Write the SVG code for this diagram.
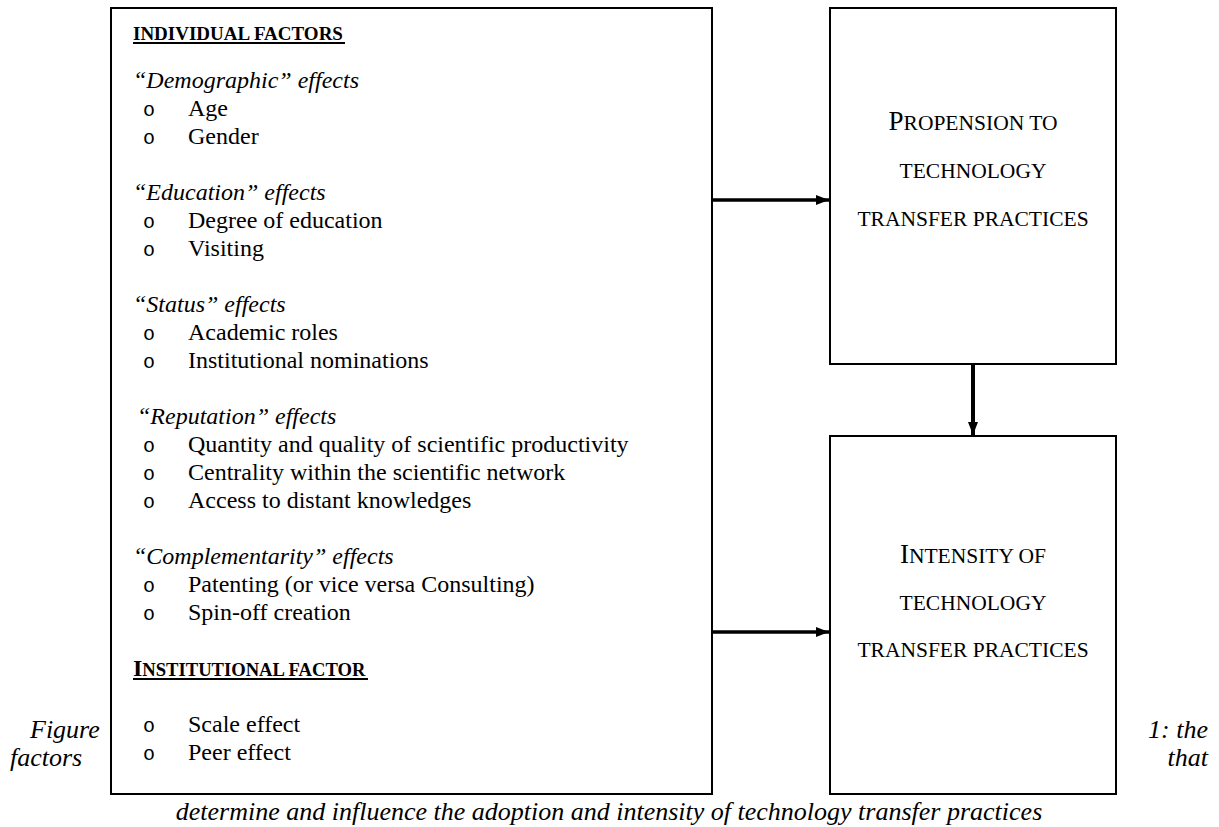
<svg xmlns="http://www.w3.org/2000/svg" width="1219" height="827" viewBox="0 0 1219 827">
  <defs>
    <marker id="arrow" viewBox="0 0 13 10" refX="13" refY="5" markerWidth="13" markerHeight="10" markerUnits="userSpaceOnUse" orient="auto">
      <path d="M0,0 L13,5 L0,10 Z" fill="#000"/>
    </marker>
    <style>
      .box { fill: #fff; stroke: #000; stroke-width: 2; }
      .body { font-family: "Liberation Serif", "Times New Roman", serif; font-size: 24px; fill: #000; }
      .ital { font-style: italic; }
      .bullet { font-family: "Liberation Mono", "Courier New", monospace; font-size: 20px; fill: #000; }
      .head { font-family: "Liberation Serif", "Times New Roman", serif; font-weight: bold; fill: #000; }
      .sc { font-family: "Liberation Serif", "Times New Roman", serif; font-size: 21.5px; fill: #000; text-anchor: middle; }
      .cap { font-family: "Liberation Serif", "Times New Roman", serif; font-style: italic; font-size: 26px; fill: #000; }
      .link { stroke: #000; fill: none; }
    </style>
  </defs>

  <rect width="1219" height="827" fill="#fff"/>

  <!-- Factors box -->
  <g id="factors">
    <rect class="box" x="111" y="8" width="601" height="786"/>
    <text class="head" x="133" y="40" font-size="19">INDIVIDUAL FACTORS</text>
    <line x1="133" y1="43" x2="345" y2="43" stroke="#000" stroke-width="2"/>

    <text class="body ital" x="133" y="88">“Demographic” effects</text>
    <text class="bullet" x="143" y="116">o</text><text class="body" x="188" y="116">Age</text>
    <text class="bullet" x="143" y="144">o</text><text class="body" x="188" y="144">Gender</text>

    <text class="body ital" x="133" y="200">“Education” effects</text>
    <text class="bullet" x="143" y="228">o</text><text class="body" x="188" y="228">Degree of education</text>
    <text class="bullet" x="143" y="256">o</text><text class="body" x="188" y="256">Visiting</text>

    <text class="body ital" x="133" y="312">“Status” effects</text>
    <text class="bullet" x="143" y="340">o</text><text class="body" x="188" y="340">Academic roles</text>
    <text class="bullet" x="143" y="368">o</text><text class="body" x="188" y="368">Institutional nominations</text>

    <text class="body ital" x="137" y="424">“Reputation” effects</text>
    <text class="bullet" x="143" y="452">o</text><text class="body" x="188" y="452">Quantity and quality of scientific productivity</text>
    <text class="bullet" x="143" y="480">o</text><text class="body" x="188" y="480">Centrality within the scientific network</text>
    <text class="bullet" x="143" y="508">o</text><text class="body" x="188" y="508">Access to distant knowledges</text>

    <text class="body ital" x="133" y="564">“Complementarity” effects</text>
    <text class="bullet" x="143" y="592">o</text><text class="body" x="188" y="592">Patenting (or vice versa Consulting)</text>
    <text class="bullet" x="143" y="620">o</text><text class="body" x="188" y="620">Spin-off creation</text>

    <text class="head" x="133" y="676"><tspan font-size="24">I</tspan><tspan font-size="18.6">NSTITUTIONAL FACTOR</tspan></text>
    <line x1="133" y1="679" x2="368" y2="679" stroke="#000" stroke-width="2"/>
    <text class="bullet" x="143" y="732">o</text><text class="body" x="188" y="732">Scale effect</text>
    <text class="bullet" x="143" y="760">o</text><text class="body" x="188" y="760">Peer effect</text>
  </g>

  <!-- Propension box -->
  <g id="propension">
    <rect class="box" x="830" y="8" width="286" height="356"/>
    <text class="sc" x="973" y="130"><tspan font-size="27">P</tspan>ROPENSION TO</text>
    <text class="sc" x="973" y="178">TECHNOLOGY</text>
    <text class="sc" x="973" y="226">TRANSFER PRACTICES</text>
  </g>

  <!-- Intensity box -->
  <g id="intensity">
    <rect class="box" x="830" y="436" width="286" height="358"/>
    <text class="sc" x="973" y="563"><tspan font-size="27">I</tspan>NTENSITY OF</text>
    <text class="sc" x="973" y="610">TECHNOLOGY</text>
    <text class="sc" x="973" y="657">TRANSFER PRACTICES</text>
  </g>

  <!-- Connectors -->
  <g id="connectors">
    <line class="link" x1="712" y1="200" x2="829" y2="200" stroke-width="3.5" marker-end="url(#arrow)"/>
    <line class="link" x1="712" y1="632" x2="829" y2="632" stroke-width="3.5" marker-end="url(#arrow)"/>
    <line class="link" x1="973" y1="364" x2="973" y2="435" stroke-width="4" marker-end="url(#arrow)"/>
  </g>

  <!-- Caption -->
  <g id="caption">
    <text class="cap" x="30" y="738">Figure</text>
    <text class="cap" x="1208" y="738" text-anchor="end">1: the</text>
    <text class="cap" x="10" y="766">factors</text>
    <text class="cap" x="1208" y="766" text-anchor="end">that</text>
    <text class="cap" x="609" y="820" text-anchor="middle">determine and influence the adoption and intensity of technology transfer practices</text>
  </g>
</svg>
